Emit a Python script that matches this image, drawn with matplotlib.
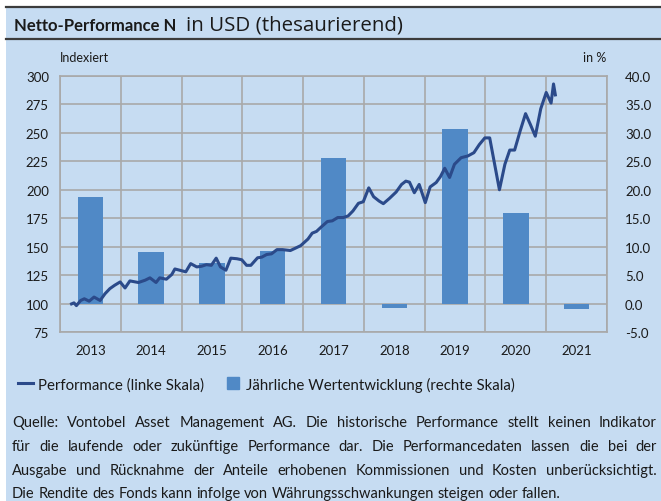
import matplotlib
matplotlib.use("Agg")
import matplotlib.pyplot as plt
from matplotlib.lines import Line2D
from matplotlib.patches import Rectangle

plt.rcParams["font.family"] = ["Lato", "DejaVu Sans"]

years = ["2013", "2014", "2015", "2016", "2017", "2018", "2019", "2020", "2021"]
annual_returns = [18.7, 9.0, 7.2, 9.2, 25.6, -0.85, 30.6, 16.0, -1.0]

# position in years since start of 2013, indexed performance
perf_pos = [
    0.19, 0.23, 0.27, 0.34, 0.40, 0.48, 0.56, 0.66, 0.74, 0.82, 0.90, 0.99,
    1.07, 1.15, 1.29, 1.40, 1.48, 1.58, 1.64, 1.75, 1.84, 1.89,
    2.07, 2.15, 2.25, 2.33, 2.41, 2.49, 2.57, 2.64, 2.73, 2.81, 2.91, 2.99,
    3.07, 3.14, 3.25, 3.32, 3.40, 3.48, 3.57, 3.66, 3.79, 3.87, 3.96,
    4.08, 4.15, 4.22, 4.30, 4.40, 4.48, 4.57, 4.66, 4.74, 4.82, 4.91, 4.99,
    5.08, 5.16, 5.25, 5.32, 5.42, 5.53, 5.62, 5.69, 5.75, 5.83, 5.91, 6.01,
    6.09, 6.19, 6.26, 6.33, 6.41, 6.49, 6.60, 6.71, 6.81, 6.90, 6.99,
    7.07, 7.23, 7.32, 7.40, 7.48, 7.57, 7.66, 7.74, 7.82, 7.91, 8.00,
    8.08, 8.12, 8.15,
]
perf_index = [
    99.7, 100.6, 98.2, 102.7, 104.2, 102.1, 105.7, 102.7, 108.6, 113.1, 116.1, 119.0,
    113.7, 119.9, 118.5, 120.5, 122.6, 118.5, 122.6, 121.4, 125.6, 130.4,
    127.9, 135.1, 132.2, 132.8, 134.2, 133.6, 139.9, 132.2, 129.3, 139.9, 139.4, 138.5,
    133.6, 133.6, 140.2, 140.8, 143.1, 143.7, 147.4, 147.4, 146.6, 148.6, 150.9,
    156.7, 161.9, 163.4, 167.4, 172.1, 172.7, 175.6, 175.6, 177.0, 181.4, 188.1, 189.5,
    201.7, 193.9, 190.1, 187.8, 192.4, 198.0, 204.7, 207.6, 206.7, 197.4, 204.7, 188.7,
    202.5, 206.4, 211.6, 218.9, 210.8, 222.4, 228.2, 229.7, 232.6, 239.8, 245.6,
    245.6, 200.0, 222.4, 234.9, 234.9, 251.5, 266.9, 257.3, 247.1, 271.2, 285.5,
    276.2, 293.0, 283.4,
]

left_ticks = [75, 100, 125, 150, 175, 200, 225, 250, 275, 300]
right_ticks = [-5, 0, 5, 10, 15, 20, 25, 30, 35, 40]

footnote = [
    "Quelle: Vontobel Asset Management AG. Die historische Performance stellt keinen Indikator",
    "für die laufende oder zukünftige Performance dar. Die Performancedaten lassen die bei der",
    "Ausgabe und Rücknahme der Anteile erhobenen Kommissionen und Kosten unberücksichtigt.",
    "Die Rendite des Fonds kann infolge von Währungsschwankungen steigen oder fallen.",
]

BG = "#C6DCF2"
BAR = "#5089C6"
LINE = "#2B4A8A"
GRID = "#A9A9A9"
TXT = "#1A1A1A"

W, H = 661, 502
fig = plt.figure(figsize=(W / 100, H / 100), dpi=100, facecolor="white")
renderer = fig.canvas.get_renderer()


def fit_text(x, y, s, width_px, size, **kw):
    """Place text and scale its font so it spans width_px pixels."""
    t = fig.text(x / W, 1 - y / H, s, fontsize=size, **kw)
    w = t.get_window_extent(renderer).width
    t.set_fontsize(size * width_px / w)
    return t, t.get_window_extent(renderer).x1


fig.patches.append(Rectangle((6 / W, 0), 1, 1 - 7 / H, transform=fig.transFigure,
                             facecolor=BG, edgecolor="none", zorder=-5))
for yy in (8, 40):
    fig.add_artist(Line2D([6 / W, 1], [1 - yy / H] * 2, color="#3C3C3C", lw=1.6))

_, bold_end = fit_text(14, 26, "Netto-Performance N", 163, 12.5, fontweight="bold",
                       color=TXT, va="center")
fit_text(bold_end + 10, 26, "in USD (thesaurierend)", 217, 14.5, color=TXT,
         va="center", family=["Open Sans", "DejaVu Sans"])

ax = fig.add_axes([60 / W, 1 - 333 / H, 547 / W, 256 / H])
ax.patch.set_visible(False)
xs = [i + 0.5 for i in range(len(years))]
ax.bar(xs, annual_returns, width=0.42, color=BAR, zorder=2)
ax.set_xlim(0, len(years))
ax.set_ylim(right_ticks[0], right_ticks[-1])
ax.set_yticks(right_ticks)
ax.set_yticklabels([f"{v:.1f}" for v in right_ticks])
ax.set_xticks(xs)
ax.set_xticklabels(years)
ax.set_xticks(range(len(years) + 1), minor=True)
ax.grid(which="minor", axis="x", color=GRID, lw=1.2)
ax.grid(which="major", axis="y", color=GRID, lw=1.2)
ax.grid(which="major", axis="x", visible=False)
ax.set_axisbelow(True)
for s in ax.spines.values():
    s.set_color(GRID)
    s.set_linewidth(1.2)

axl = ax.twinx()
axl.yaxis.tick_left()
ax.yaxis.tick_right()
ax.tick_params(which="both", length=0, labelsize=9.5, colors=TXT)
ax.tick_params(axis="x", pad=9)
ax.tick_params(axis="y", pad=13)
axl.plot(perf_pos, perf_index, color=LINE, lw=2.2, zorder=3)
axl.set_ylim(left_ticks[0], left_ticks[-1])
axl.set_yticks(left_ticks)
axl.tick_params(length=0, labelsize=9.5, colors=TXT, pad=8)
for s in axl.spines.values():
    s.set_visible(False)

fig.text(60 / W, 1 - 58 / H, "Indexiert", fontsize=9, color=TXT, va="center")
fig.text(606 / W, 1 - 58 / H, "in %", fontsize=9, color=TXT, va="center", ha="right")

handles = [
    Line2D([], [], color=LINE, lw=2.2),
    Line2D([], [], color=BAR, marker="s", ls="none", markersize=9),
]
fig.legend(handles, ["Performance (linke Skala)", "Jährliche Wertentwicklung (rechte Skala)"],
           loc="center left", bbox_to_anchor=(4 / W, 1 - 385 / H), ncol=2, frameon=False,
           fontsize=10.8, handlelength=1.0, handletextpad=0.4, columnspacing=1.4,
           labelcolor=TXT)

probe_a = fig.text(0, 0, "a b", fontsize=10.5)
probe_b = fig.text(0, 0, "ab", fontsize=10.5)
space = probe_a.get_window_extent(renderer).width - probe_b.get_window_extent(renderer).width
probe_a.remove()
probe_b.remove()

line_y = [423, 447, 471, 494]
for i, (txt, yy) in enumerate(zip(footnote, line_y)):
    words = txt.split(" ")
    texts = [fig.text(0, 1 - yy / H, w, fontsize=10.5, color=TXT, va="center")
             for w in words]
    widths = [t.get_window_extent(renderer).width for t in texts]
    if i < len(footnote) - 1:
        gap = ((657 - 12) - sum(widths)) / (len(words) - 1)
    else:
        gap = space
    x = 12
    for t, w in zip(texts, widths):
        t.set_x(x / W)
        x += w + gap

fig.savefig("out.png", dpi=100, facecolor="white")
